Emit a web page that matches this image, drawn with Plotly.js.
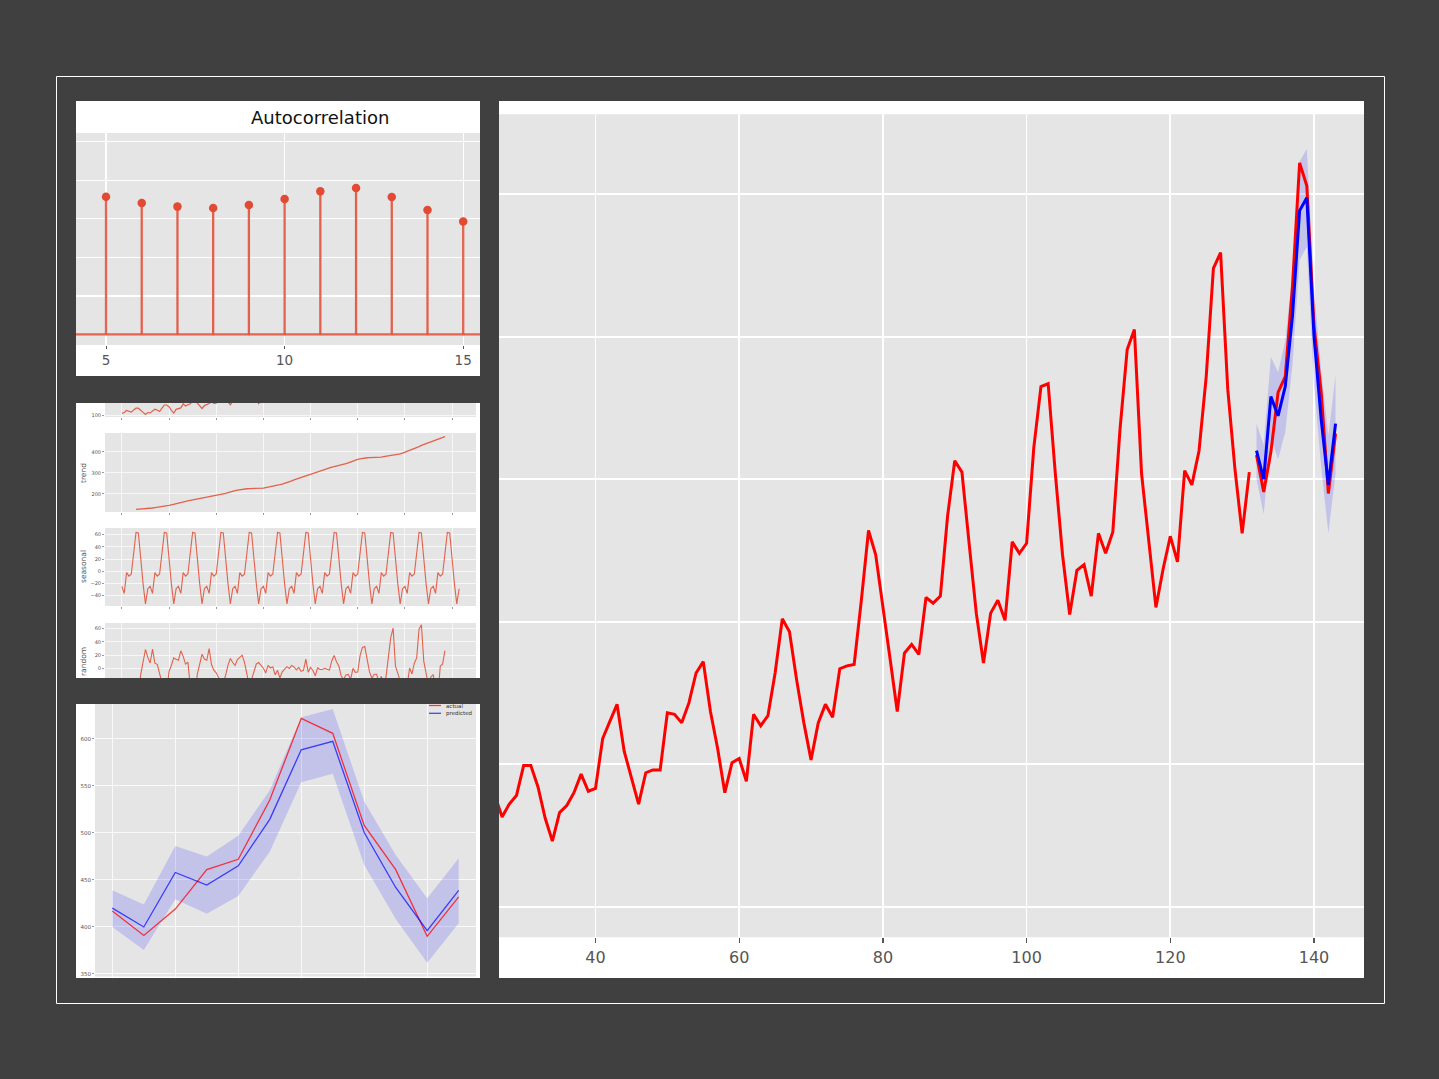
<!DOCTYPE html>
<html><head><meta charset="utf-8">
<script src="https://cdn.plot.ly/plotly-3.0.1.min.js"></script>
<style>html,body{margin:0;padding:0;background:#404040;}#chart{width:1439px;height:1079px;}</style>
</head><body><div id="chart"></div>
<script>
// ---------------- DATA ----------------
const trainSeries = [
112,118,132,129,121,135,148,148,136,119,104,118,
115,126,141,135,125,149,170,170,158,133,114,140,
145,150,178,163,172,178,199,199,184,162,146,166,
171,180,193,181,183,218,230,242,209,191,172,194,
196,196,236,235,229,243,264,272,237,211,180,201,
204,188,235,227,234,264,302,293,259,229,203,229,
242,233,267,269,270,315,364,347,312,274,237,278,
284,277,317,313,318,374,413,405,355,306,271,306,
315,301,356,348,355,422,465,467,404,347,305,336,
340,318,362,348,363,435,491,505,404,359,310,337,
360,342,406,396,420,472,548,559,463,407,362,405];
const testActual = [417,391,419,461,472,535,622,606,508,461,390,432];
const predicted  = [420,400,458,444.5,465,514.5,588.5,597.5,500.5,442,396,439];
const predLower  = [400,375.5,429.5,414,433,480,554,563,466,408.5,362,404];
const predUpper  = [439,424,486,475,497,545.5,623,632,533.5,476.5,430.5,473];

const acfLags   = [5,6,7,8,9,10,11,12,13,14,15];
const acfValues = [0.714,0.682,0.663,0.656,0.671,0.703,0.743,0.760,0.713,0.646,0.586];

const trendStart = 6;
const trend = [
126.79,127.25,127.96,128.58,129.00,129.75,
131.25,133.08,134.92,136.42,137.42,138.75,140.92,143.17,145.71,148.42,151.54,154.71,
157.13,159.54,161.83,164.13,166.67,169.08,171.25,173.58,175.46,176.83,178.04,180.17,
183.13,186.21,189.04,191.29,193.58,195.83,198.04,199.75,202.21,206.25,210.42,213.38,
215.83,218.50,220.92,222.92,224.08,224.71,225.33,225.33,224.96,224.58,224.46,225.54,
228.00,230.46,232.25,233.92,235.63,237.75,240.50,243.96,247.17,250.25,253.50,257.13,
261.83,266.67,271.13,275.21,278.50,281.96,285.75,289.33,293.25,297.17,301.00,305.46,
309.96,314.42,318.63,321.75,324.50,327.08,329.54,331.83,334.46,337.54,340.54,344.08,
348.25,353.00,357.63,361.38,364.50,367.17,369.46,371.21,372.17,372.42,372.75,372.92,
373.08,373.79,375.58,377.83,379.50,380.63,380.92,381.83,383.67,386.50,390.33,394.71,
398.63,402.54,407.17,411.88,416.33,420.50,425.50,430.71,435.13,437.71,440.96,445.83,
450.63,456.33,461.38,465.21,469.33,472.75];
const seasonal = [
-24.75,-36.19,-2.24,-8.04,-4.51,35.40,63.83,62.82,16.52,-20.64,-53.59,-28.62,
-24.75,-36.19,-2.24,-8.04,-4.51,35.40,63.83,62.82,16.52,-20.64,-53.59,-28.62,
-24.75,-36.19,-2.24,-8.04,-4.51,35.40,63.83,62.82,16.52,-20.64,-53.59,-28.62,
-24.75,-36.19,-2.24,-8.04,-4.51,35.40,63.83,62.82,16.52,-20.64,-53.59,-28.62,
-24.75,-36.19,-2.24,-8.04,-4.51,35.40,63.83,62.82,16.52,-20.64,-53.59,-28.62,
-24.75,-36.19,-2.24,-8.04,-4.51,35.40,63.83,62.82,16.52,-20.64,-53.59,-28.62,
-24.75,-36.19,-2.24,-8.04,-4.51,35.40,63.83,62.82,16.52,-20.64,-53.59,-28.62,
-24.75,-36.19,-2.24,-8.04,-4.51,35.40,63.83,62.82,16.52,-20.64,-53.59,-28.62,
-24.75,-36.19,-2.24,-8.04,-4.51,35.40,63.83,62.82,16.52,-20.64,-53.59,-28.62,
-24.75,-36.19,-2.24,-8.04,-4.51,35.40,63.83,62.82,16.52,-20.64,-53.59,-28.62,
-24.75,-36.19,-2.24,-8.04,-4.51,35.40,63.83,62.82,16.52,-20.64,-53.59,-28.62,
-24.75,-36.19,-2.24,-8.04,-4.51,35.40,63.83,62.82,16.52,-20.64,-53.59,-28.62];
const randomPart = [
-42.62,-42.07,-8.48,11.06,28.59,16.87,
8.50,29.11,8.32,6.62,-7.91,-25.15,-34.75,-35.99,-4.23,5.22,16.05,13.91,
12.62,26.65,18.41,6.91,9.84,-26.48,-36.08,-37.40,-7.98,5.81,21.55,14.45,
12.62,29.98,6.20,-2.25,-6.07,-13.23,-31.87,-20.57,-9.73,5.39,15.17,9.24,
4.92,13.69,17.32,20.12,9.43,-17.11,-25.16,-16.15,-4.48,7.06,9.13,4.08,
0.75,-6.27,4.99,1.12,2.88,-9.15,-2.33,-13.78,-4.69,-0.61,3.09,0.49,
4.92,2.52,-1.89,1.83,-3.99,-2.36,14.42,-5.15,2.23,-2.53,-10.41,1.16,
-1.21,-1.23,0.61,-0.71,-1.99,11.52,19.63,10.35,4.02,-10.90,-15.95,-9.46,
-8.50,-15.81,0.61,-5.34,-4.99,19.43,31.71,32.97,15.31,-4.78,-14.16,-8.30,
-8.33,-19.60,-11.34,-21.79,-11.99,18.97,46.25,60.35,3.81,-6.86,-26.74,-29.09,
-13.88,-24.35,1.07,-7.84,8.18,16.10,58.67,65.47,11.35,-10.07,-25.37,-12.21,
-8.88,-29.14,-40.14,3.83,7.18,26.85];

const mainXTicks = [40,60,80,100,120,140];
const mainYTicks = [100,200,300,400,500,600];
const acfXTicks = [5,10,15];
const acfYTicks = [0,0.2,0.4,0.6,0.8,1.0];
const decompXTicks = [0,20,40,60,80,100,120,140];
const obsYTicks = [100,200];
const trendYTicks = [200,300,400];
const seasYTicks = [-40,-20,0,20,40,60];
const randYTicks = [-20,0,20,40,60];
const fcXTicks = [0,2,4,6,8,10];
const fcYTicks = [350,400,450,500,550,600];

// ---------------- derived (index positions) ----------------
const observed = trainSeries.concat(testActual);
const nTrain = trainSeries.length;
const idxAll = observed.map((_, i) => i);
const idxTrain = trainSeries.map((_, i) => i);
const idxTest = testActual.map((_, i) => nTrain + i);
const idxTrend = trend.map((_, i) => trendStart + i);
const idxFc = testActual.map((_, i) => i);

// ---------------- layout helpers ----------------
const W = 1439, H = 1079;
const PX = x => x / W;
const PY = y => 1 - y / H;
const dx = (l, r) => [PX(l), PX(r)];
const dy = (t, b) => [PY(b), PY(t)];
const FONT = 'DejaVu Sans, Liberation Sans, sans-serif';
const RED = '#E24A33';
const DECO = 'rgba(226,74,51,0.85)';

function axis(o) {
  return Object.assign({
    showgrid: true, gridcolor: '#FFFFFF', gridwidth: 1,
    zeroline: false, showline: false, ticks: '', showticklabels: false,
    tickfont: {family: FONT, size: 6, color: '#555555'},
    tickcolor: '#555555', fixedrange: true, layer: 'above traces'
  }, o);
}

// geometry (pixels)
const G = {
  main: {l: 499, r: 1364, t: 114.3, b: 937.3},
  acf:  {l: 76, r: 480, t: 133, b: 345},
  obs:  {l: 105, r: 476, t: 403, b: 417},
  trd:  {l: 105, r: 476, t: 433, b: 512},
  sea:  {l: 105, r: 476, t: 528, b: 606},
  rnd:  {l: 105, r: 476, t: 623, b: 678},
  fc:   {l: 95, r: 476, t: 704, b: 976.5}
};

// ---------------- traces ----------------
const stemX = [], stemY = [];
acfLags.forEach((l, i) => { stemX.push(l, l, null); stemY.push(0, acfValues[i], null); });

const traces = [
  // main chart
  {x: idxTest, y: predLower, xaxis: 'x', yaxis: 'y', mode: 'lines', line: {width: 0, color: 'rgba(0,0,255,0)'}, hoverinfo: 'skip'},
  {x: idxTest, y: predUpper, xaxis: 'x', yaxis: 'y', mode: 'lines', line: {width: 0, color: 'rgba(0,0,255,0)'}, fill: 'tonexty', fillcolor: 'rgba(0,0,255,0.15)', hoverinfo: 'skip'},
  {x: idxTrain, y: trainSeries, xaxis: 'x', yaxis: 'y', mode: 'lines', line: {color: '#FF0000', width: 3}},
  {x: idxTest, y: testActual, xaxis: 'x', yaxis: 'y', mode: 'lines', line: {color: '#FF0000', width: 3}},
  {x: idxTest, y: predicted, xaxis: 'x', yaxis: 'y', mode: 'lines', line: {color: '#0000FF', width: 3}},
  // ACF
  {x: stemX, y: stemY, xaxis: 'x2', yaxis: 'y2', mode: 'lines', line: {color: 'rgba(226,74,51,0.85)', width: 2.3}},
  {x: acfLags, y: acfValues, xaxis: 'x2', yaxis: 'y2', mode: 'markers', marker: {color: RED, size: 8.5}},
  // decomposition
  {x: idxAll, y: observed, xaxis: 'x3', yaxis: 'y3', mode: 'lines', line: {color: DECO, width: 1.2}},
  {x: idxTrend, y: trend, xaxis: 'x4', yaxis: 'y4', mode: 'lines', line: {color: DECO, width: 1.3}},
  {x: idxAll, y: seasonal, xaxis: 'x5', yaxis: 'y5', mode: 'lines', line: {color: DECO, width: 1.1}},
  {x: idxTrend, y: randomPart, xaxis: 'x6', yaxis: 'y6', mode: 'lines', line: {color: DECO, width: 1.1}},
  // forecast panel
  {x: idxFc, y: predLower, xaxis: 'x7', yaxis: 'y7', mode: 'lines', line: {width: 0, color: 'rgba(0,0,255,0)'}},
  {x: idxFc, y: predUpper, xaxis: 'x7', yaxis: 'y7', mode: 'lines', line: {width: 0, color: 'rgba(0,0,255,0)'}, fill: 'tonexty', fillcolor: 'rgba(0,0,255,0.15)'},
  {x: idxFc, y: testActual, xaxis: 'x7', yaxis: 'y7', mode: 'lines', line: {color: 'rgba(255,0,0,0.75)', width: 1.3}},
  {x: idxFc, y: predicted, xaxis: 'x7', yaxis: 'y7', mode: 'lines', line: {color: 'rgba(0,0,255,0.7)', width: 1.3}}
];

// ---------------- shapes ----------------
function rect(l, t, r, b, color) {
  return {type: 'rect', xref: 'paper', yref: 'paper', x0: PX(l), x1: PX(r), y0: PY(b), y1: PY(t),
          fillcolor: color, line: {width: 0}, layer: 'below'};
}
const shapes = [
  {type: 'rect', xref: 'paper', yref: 'paper', x0: PX(56.5), x1: PX(1384.5), y0: PY(1003.5), y1: PY(76.5),
   line: {color: '#FFFFFF', width: 1}, fillcolor: 'rgba(0,0,0,0)', layer: 'below'},
  rect(76, 101, 480, 376, '#FFFFFF'),
  rect(76, 403, 480, 678, '#FFFFFF'),
  rect(76, 704, 480, 978, '#FFFFFF'),
  rect(499, 101, 1364, 978, '#FFFFFF')
];
Object.values(G).forEach(g => shapes.push(rect(g.l, g.t, g.r, g.b, '#E5E5E5')));
shapes.push({type: 'line', xref: 'x2 domain', x0: 0, x1: 1, yref: 'y2', y0: 0, y1: 0,
             line: {color: 'rgba(226,74,51,0.85)', width: 2.3}, layer: 'above'});
shapes.push({type: 'line', xref: 'paper', yref: 'paper', x0: PX(429), x1: PX(441), y0: PY(705.5), y1: PY(705.5),
             line: {color: 'rgba(255,0,0,0.75)', width: 1.3}, layer: 'above'});
shapes.push({type: 'line', xref: 'paper', yref: 'paper', x0: PX(429), x1: PX(441), y0: PY(713.3), y1: PY(713.3),
             line: {color: 'rgba(0,0,255,0.7)', width: 1.3}, layer: 'above'});

// ---------------- annotations ----------------
function note(text, x, y, o) {
  return Object.assign({text: text, xref: 'paper', yref: 'paper', x: PX(x), y: PY(y), showarrow: false,
    xanchor: 'center', yanchor: 'middle', font: {family: FONT, size: 7, color: '#555555'}}, o || {});
}
const annotations = [
  note('Autocorrelation', 320, 117.5, {font: {family: FONT, size: 18, color: '#111111'}}),
  note('trend', 83, 473, {textangle: -90, font: {family: FONT, size: 7.5, color: '#555555'}}),
  note('seasonal', 83, 567, {textangle: -90, font: {family: FONT, size: 7.5, color: '#555555'}}),
  note('random', 83, 662, {textangle: -90, font: {family: FONT, size: 7.5, color: '#555555'}}),
  note('actual', 444, 705.5, {xanchor: 'left', font: {family: FONT, size: 5.5, color: '#333333'}}),
  note('predicted', 444, 713.3, {xanchor: 'left', font: {family: FONT, size: 5.5, color: '#333333'}})
];

// ---------------- layout ----------------
const small = sz => ({family: FONT, size: sz, color: '#555555'});
const layout = {
  width: W, height: H, margin: {l: 0, r: 0, t: 0, b: 0, pad: 0},
  paper_bgcolor: '#404040', plot_bgcolor: 'rgba(0,0,0,0)',
  showlegend: false, hovermode: false,
  font: {family: FONT, color: '#555555'},
  xaxis: axis({domain: dx(G.main.l, G.main.r), range: [26.57, 146.96], tickvals: mainXTicks, gridwidth: 1.8,
               showticklabels: true, ticks: 'outside', ticklen: 5, tickwidth: 1.3,
               tickfont: small(16), anchor: 'y'}),
  yaxis: axis({domain: dy(G.main.t, G.main.b), range: [78.5, 656.1], tickvals: mainYTicks, gridwidth: 1.8, anchor: 'x'}),
  xaxis2: axis({domain: dx(G.acf.l, G.acf.r), range: [4.16, 15.47], tickvals: acfXTicks, gridwidth: 1.3,
                showticklabels: true, ticks: 'outside', ticklen: 3, tickwidth: 1,
                tickfont: small(13.5), anchor: 'y2'}),
  yaxis2: axis({domain: dy(G.acf.t, G.acf.b), range: [-0.055, 1.045], tickvals: acfYTicks, gridwidth: 1.3, anchor: 'x2'}),
  xaxis3: axis({domain: dx(G.obs.l, G.obs.r), range: [-7.15, 150.15], tickvals: decompXTicks, gridwidth: 0.7, ticks: 'outside', ticklen: 2, tickwidth: 0.6, anchor: 'y3'}),
  yaxis3: axis({domain: dy(G.obs.t, G.obs.b), range: [87, 184], tickvals: obsYTicks, gridwidth: 0.7, showticklabels: true, ticks: 'outside', ticklen: 2, tickwidth: 0.6, tickfont: small(5), anchor: 'x3'}),
  xaxis4: axis({domain: dx(G.trd.l, G.trd.r), range: [-7.15, 150.15], tickvals: decompXTicks, gridwidth: 0.7, ticks: 'outside', ticklen: 2, tickwidth: 0.6, anchor: 'y4'}),
  yaxis4: axis({domain: dy(G.trd.t, G.trd.b), range: [114, 490], tickvals: trendYTicks, gridwidth: 0.7, showticklabels: true, ticks: 'outside', ticklen: 2, tickwidth: 0.6, tickfont: small(5), anchor: 'x4'}),
  xaxis5: axis({domain: dx(G.sea.l, G.sea.r), range: [-7.15, 150.15], tickvals: decompXTicks, gridwidth: 0.7, ticks: 'outside', ticklen: 2, tickwidth: 0.6, anchor: 'y5'}),
  yaxis5: axis({domain: dy(G.sea.t, G.sea.b), range: [-57, 71], tickvals: seasYTicks, gridwidth: 0.7, showticklabels: true, ticks: 'outside', ticklen: 2, tickwidth: 0.6, tickfont: small(5), anchor: 'x5'}),
  xaxis6: axis({domain: dx(G.rnd.l, G.rnd.r), range: [-7.15, 150.15], tickvals: decompXTicks, gridwidth: 0.7, anchor: 'y6'}),
  yaxis6: axis({domain: dy(G.rnd.t, G.rnd.b), range: [-13.8, 68], tickvals: randYTicks, gridwidth: 0.7, showticklabels: true, ticks: 'outside', ticklen: 2, tickwidth: 0.6, tickfont: small(5), anchor: 'x6'}),
  xaxis7: axis({domain: dx(G.fc.l, G.fc.r), range: [-0.55, 11.55], tickvals: fcXTicks, gridwidth: 0.8, ticks: 'outside', ticklen: 2, tickwidth: 0.6, anchor: 'y7'}),
  yaxis7: axis({domain: dy(G.fc.t, G.fc.b), range: [347.3, 637.2], tickvals: fcYTicks, gridwidth: 0.8, showticklabels: true, ticks: 'outside', ticklen: 2, tickwidth: 0.6, tickfont: small(5.5), anchor: 'x7'}),
  shapes: shapes,
  annotations: annotations
};

Plotly.newPlot('chart', traces, layout, {displayModeBar: false, staticPlot: true});
</script>
</body></html>
